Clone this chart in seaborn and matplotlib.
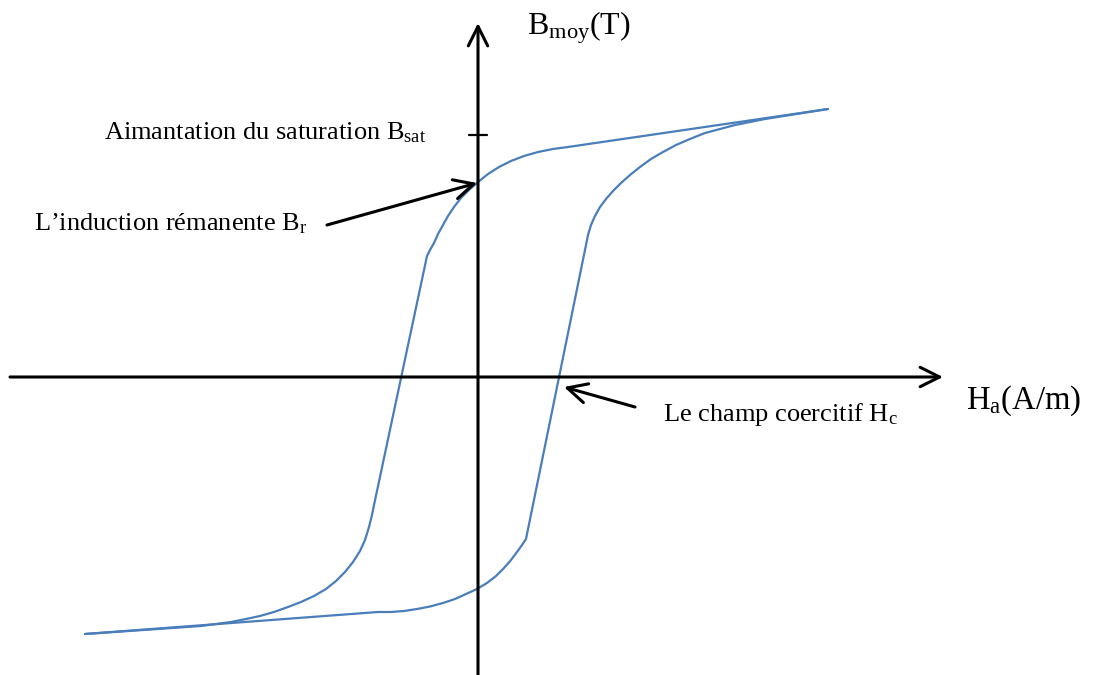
import matplotlib
matplotlib.use("Agg")
import matplotlib.pyplot as plt
import pandas as pd
import seaborn as sns

# Hysteresis loop B(H), arbitrary units (origin at the axes crossing)
# Descending branch: from positive saturation down to negative saturation
H_down = [350, 90, 75, 60, 46, 33, 21, 10, 0, -9, -17, -24, -30, -35, -40, -44, -48, -51,
          -104, -106, -109, -113, -118, -125, -133, -142, -152, -164, -177, -190, -204,
          -218, -232, -247, -262, -277, -393]
B_down = [268, 230, 228, 225, 221, 216, 210, 203, 195, 187, 179, 170, 161, 152, 143, 134, 127, 121,
          -128, -138, -150, -163, -174, -185, -195, -204, -212, -219, -225, -230, -235,
          -239, -242, -245, -247, -249, -257]

# Ascending branch: from negative saturation back up to positive saturation
H_up = [-393, -100, -87, -74, -61, -48, -35, -23, -12, -1, 9, 18, 26, 33, 39, 44, 48,
        108, 110, 113, 117, 122, 128, 135, 143, 152, 162, 173, 185, 198, 212, 227, 242,
        257, 272, 287, 350]
B_up = [-257, -235, -235, -234, -232, -229.5, -226, -222, -217, -212, -206, -199, -191, -183,
        -175, -168, -162,
        132, 142, 152, 161, 170, 178, 186, 194, 202, 210, 218, 225, 232, 238, 244, 248,
        252, 255, 258, 268]

# Remarkable points of the loop
B_sat = 242
B_r = 194
H_c = 86

labels = {
    "sat": "Aimantation du saturation B$_{\\mathrm{sat}}$",
    "rem": "L’induction rémanente B$_{\\mathrm{r}}$",
    "coer": "Le champ coercitif H$_{\\mathrm{c}}$",
    "yaxis": "B$_{\\mathrm{moy}}$(T)",
    "xaxis": "H$_{\\mathrm{a}}$(A/m)",
}

sns.set_theme(style="white")
plt.rcParams["font.family"] = ["Liberation Serif", "DejaVu Serif"]
plt.rcParams["mathtext.fontset"] = "custom"
plt.rcParams["mathtext.rm"] = "Liberation Serif"
plt.rcParams["mathtext.it"] = "Liberation Serif:italic"
plt.rcParams["mathtext.bf"] = "Liberation Serif:bold"
plt.rcParams["text.color"] = "black"

loop = pd.concat([
    pd.DataFrame({"H": H_down, "B": B_down, "branch": "down"}),
    pd.DataFrame({"H": H_up, "B": B_up, "branch": "up"}),
], ignore_index=True)

fig = plt.figure(figsize=(10.95, 6.75), dpi=100)
ax = fig.add_axes([0, 0, 1, 1])
ax.set_xlim(-478, 617)
ax.set_ylim(-298, 377)
ax.axis("off")

sns.lineplot(data=loop, x="H", y="B", units="branch", estimator=None, sort=False,
             color="#4a7ebb", linewidth=1.6, ax=ax, legend=False,
             solid_joinstyle="round", solid_capstyle="round")

axis_arrow = dict(arrowstyle="->,head_length=0.7,head_width=0.35", lw=2.2,
                  color="black", shrinkA=0, shrinkB=0, mutation_scale=20)

# Coordinate axes
ax.annotate("", xy=(465, 0), xytext=(-468, 0), arrowprops=axis_arrow)
ax.annotate("", xy=(0, 354), xytext=(0, -300), arrowprops=axis_arrow)
ax.plot([-9, 9], [B_sat, B_sat], color="black", lw=1.6)

# Pointers to Br and Hc
ax.annotate("", xy=(-1, B_r), xytext=(-151, 152), arrowprops=axis_arrow)
ax.annotate("", xy=(H_c, -10), xytext=(157, -30), arrowprops=axis_arrow)

ax.text(-374, 238, labels["sat"], fontsize=19, ha="left", va="baseline", color="black")
ax.text(-444, 147, labels["rem"], fontsize=19, ha="left", va="baseline", color="black")
ax.text(185, -44, labels["coer"], fontsize=19, ha="left", va="baseline", color="black")
ax.text(49, 343, labels["yaxis"], fontsize=23, ha="left", va="baseline", color="black")
ax.text(488, -32, labels["xaxis"], fontsize=23.5, ha="left", va="baseline", color="black")

fig.savefig("out.png", dpi=100)
